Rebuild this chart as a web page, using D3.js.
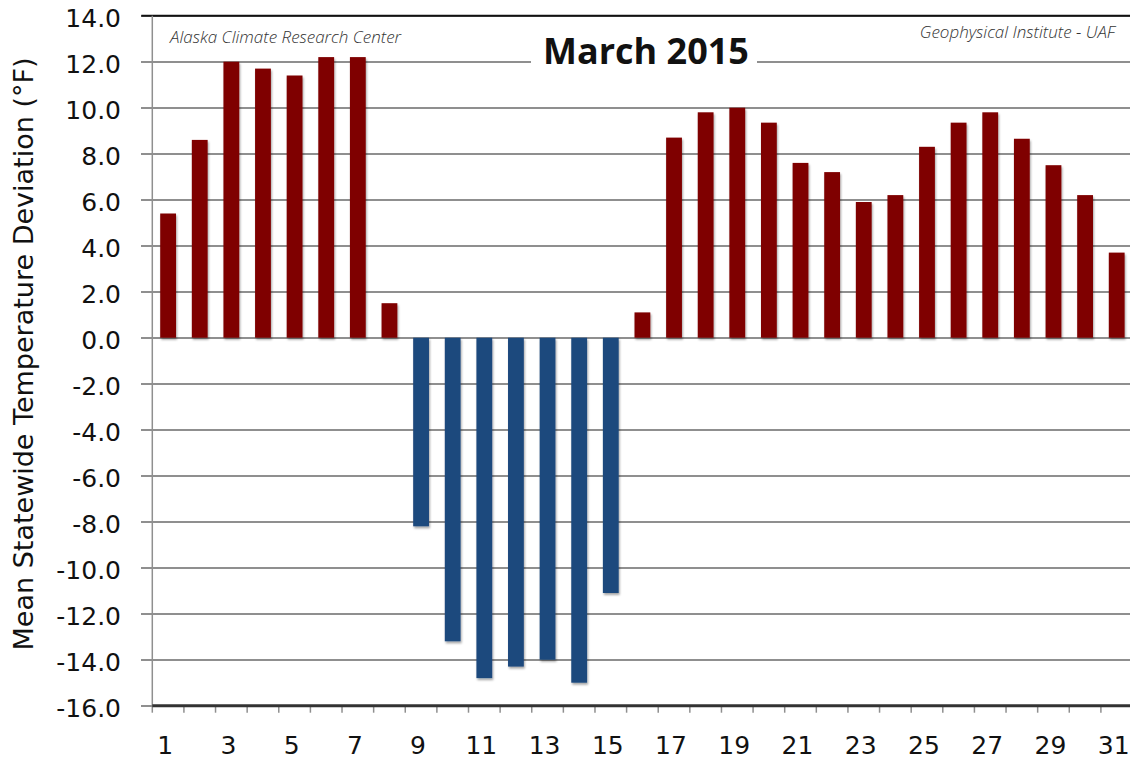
<!DOCTYPE html>
<html>
    <head>
    <meta charset="utf-8">
        <style>
            body { margin: 0; background: white; }
            .grid line { stroke: #8f8f8f; stroke-width: 1.5; shape-rendering: crispEdges; }
            .grid path { display: none; }
            text { font-family: "DejaVu Sans", sans-serif; fill: #111; }
        </style>
        <script src="https://d3js.org/d3.v7.min.js"></script>
    </head>
    <body>
        <script>
            // daily mean statewide temperature deviation, March 2015
            var days = d3.range(1, 32);
            var deviation = [5.4, 8.6, 12.0, 11.7, 11.4, 12.2, 12.2, 1.5,
                             -8.2, -13.2, -14.8, -14.3, -14.0, -15.0, -11.1,
                             1.1, 8.7, 9.8, 10.0, 9.35, 7.6, 7.2, 5.9, 6.2,
                             8.3, 9.35, 9.8, 8.65, 7.5, 6.2, 3.7];
            var yTicks = d3.range(-16, 15, 2);
            var xLabels = days.filter(function(d){ return d % 2 == 1; });

            var warmColor = "#7f0000", coldColor = "#1f497d";

            var width = 1130, height = 763;
            var plotLeft = 152.3, plotTop = 15.7, plotBottom = 705.7;

            var svg = d3.select("body").append("svg")
                .attr("width", width)
                .attr("height", height);

            // soft shadow like the original bars
            var filter = svg.append("defs").append("filter")
                .attr("id", "shadow")
                .attr("x", "-30%").attr("y", "-10%")
                .attr("width", "160%").attr("height", "120%");
            filter.append("feDropShadow")
                .attr("dx", 1).attr("dy", 2)
                .attr("stdDeviation", 1.2)
                .attr("flood-color", "#000")
                .attr("flood-opacity", 0.35);

            var y = d3.scaleLinear()
                .domain([-16, 14])
                .range([plotBottom, plotTop]);

            var slot = 31.62;
            var x = d3.scaleBand()
                .domain(days)
                .range([plotLeft, plotLeft + days.length * slot])
                .paddingInner(0.5)
                .paddingOuter(0.25);

            // horizontal gridlines with ticks sticking out left of the axis
            svg.append("g")
                .attr("class", "grid")
                .attr("transform", "translate(" + (plotLeft - 11) + ",0)")
                .call(d3.axisRight(y)
                    .tickValues(yTicks)
                    .tickSize(width - plotLeft + 11)
                    .tickFormat(""));

            // y tick labels
            svg.append("g")
                .selectAll("text")
                .data(yTicks)
                .enter()
                .append("text")
                    .attr("x", 121)
                    .attr("y", function(d){ return y(d) + 2; })
                    .attr("dy", "0.36em")
                    .attr("text-anchor", "end")
                    .style("font-size", "25px")
                    .text(function(d){ return d.toFixed(1); });

            // dark top border
            svg.append("line")
                .attr("x1", plotLeft - 11).attr("x2", width)
                .attr("y1", y(14)).attr("y2", y(14))
                .attr("stroke", "#111")
                .attr("stroke-width", 2);

            // vertical axis
            svg.append("line")
                .attr("x1", plotLeft).attr("x2", plotLeft)
                .attr("y1", y(14)).attr("y2", plotBottom)
                .attr("stroke", "#8f8f8f")
                .attr("stroke-width", 1.5);

            // bars
            svg.append("g")
                .attr("filter", "url(#shadow)")
                .selectAll("rect")
                .data(days)
                .enter()
                .append("rect")
                    .attr("x", function(d){ return x(d); })
                    .attr("width", x.bandwidth())
                    .attr("y", function(d, i){ return y(Math.max(0, deviation[i])); })
                    .attr("height", function(d, i){ return Math.abs(y(deviation[i]) - y(0)); })
                    .attr("fill", function(d, i){ return deviation[i] >= 0 ? warmColor : coldColor; });

            // bottom axis: heavy line with small ticks between days
            var tickPos = days.map(function(d){ return x(d) + x.bandwidth() / 2 - x.step() / 2; });
            tickPos.push(x(31) + x.bandwidth() / 2 + x.step() / 2);
            svg.append("g")
                .selectAll("line")
                .data(tickPos)
                .enter()
                .append("line")
                    .attr("x1", function(d){ return d; })
                    .attr("x2", function(d){ return d; })
                    .attr("y1", plotBottom)
                    .attr("y2", plotBottom + 7)
                    .attr("stroke", "#8f8f8f")
                    .attr("stroke-width", 1.5);
            svg.append("line")
                .attr("x1", plotLeft).attr("x2", width)
                .attr("y1", plotBottom).attr("y2", plotBottom)
                .attr("stroke", "#333")
                .attr("stroke-width", 3);

            // x labels, odd days only (sit a touch left of the bar centres)
            svg.append("g")
                .selectAll("text")
                .data(xLabels)
                .enter()
                .append("text")
                    .attr("x", function(d){ return x(d) + x.bandwidth() / 2 - 3; })
                    .attr("y", 754)
                    .attr("text-anchor", "middle")
                    .style("font-size", "25px")
                    .text(function(d){ return d; });

            // y axis title
            svg.append("text")
                .attr("transform", "translate(33," + 354 + ")rotate(-90)")
                .attr("text-anchor", "middle")
                .style("font-size", "27px")
                .text("Mean Statewide Temperature Deviation (°F)");

            // title on a white box that breaks the gridline
            svg.append("rect")
                .attr("x", 531).attr("y", 30)
                .attr("width", 226).attr("height", 44)
                .attr("fill", "white");
            svg.append("text")
                .attr("x", 646)
                .attr("y", 64)
                .attr("text-anchor", "middle")
                .style("font-family", "'Open Sans', sans-serif")
                .style("font-size", "36px")
                .style("font-weight", "bold")
                .text("March 2015");

            // credits
            svg.append("text")
                .attr("x", 170)
                .attr("y", 43)
                .style("font-family", "'Open Sans', sans-serif")
                .style("font-size", "17px")
                .style("font-style", "italic")
                .style("font-weight", 300)
                .style("fill", "#333")
                .text("Alaska Climate Research Center");
            svg.append("text")
                .attr("x", 1115)
                .attr("y", 38)
                .attr("text-anchor", "end")
                .style("font-family", "'Open Sans', sans-serif")
                .style("font-size", "17px")
                .style("font-style", "italic")
                .style("font-weight", 300)
                .style("fill", "#333")
                .text("Geophysical Institute - UAF");
        </script>
    </body>
</html>
